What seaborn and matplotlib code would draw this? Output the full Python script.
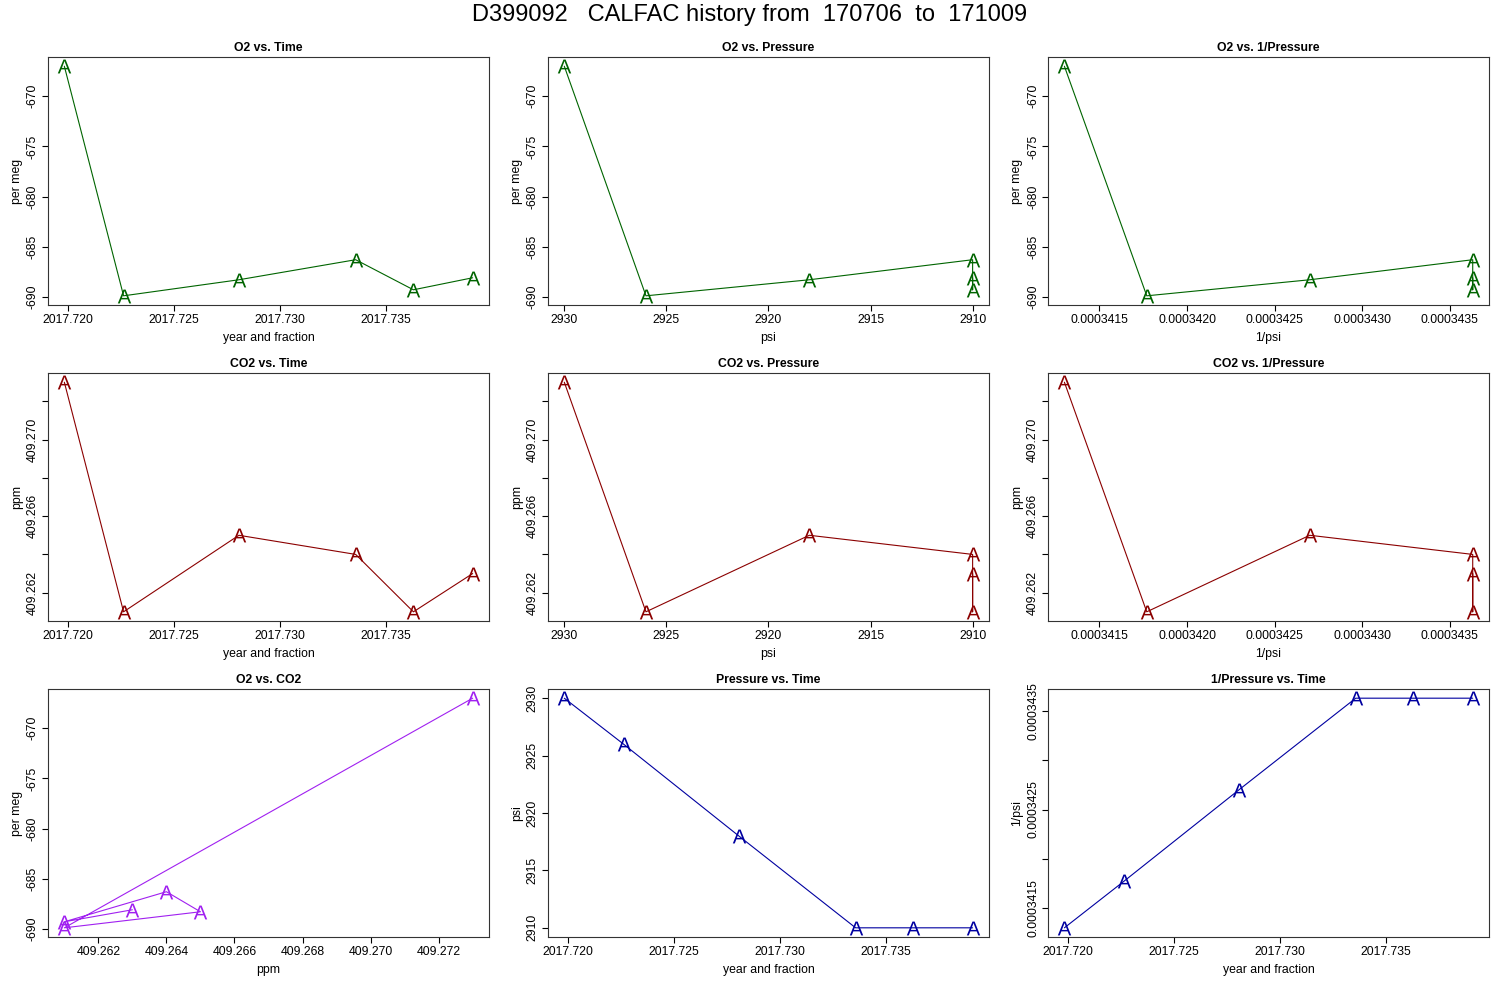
import matplotlib
matplotlib.use("Agg")
import matplotlib.pyplot as plt
import matplotlib.ticker as mticker
import seaborn as sns

# values (6 calibration runs)
time_yr = [2017.71984, 2017.72263, 2017.72806, 2017.73356, 2017.73628, 2017.73907]
o2_permeg = [-667.0, -689.9, -688.3, -686.3, -689.3, -688.1]
co2_ppm = [409.2730, 409.2610, 409.2650, 409.2640, 409.2610, 409.2630]
pressure_psi = [2930, 2926, 2918, 2910, 2910, 2910]
inv_pressure = [0.00034130, 0.00034177, 0.00034270, 0.00034363, 0.00034363, 0.00034363]

main_title = "D399092   CALFAC history from  170706  to  171009"

sns.set_style("ticks")
plt.rcParams['font.family'] = ['Liberation Sans', 'DejaVu Sans']
plt.rcParams['mathtext.fontset'] = 'custom'
plt.rcParams['mathtext.rm'] = 'Liberation Sans'
plt.rcParams['text.color'] = 'black'
plt.rcParams['axes.labelcolor'] = 'black'
plt.rcParams['xtick.color'] = 'black'
plt.rcParams['ytick.color'] = 'black'

GREEN = '#006400'
RED = '#8B0000'
PURPLE = '#A020F0'
BLUE = '#0000A0'

fig = plt.figure(figsize=(15, 10), dpi=100)
fig.text(0.5, 0.985, main_title, ha='center', va='center', fontsize=17)

col_x = [0.032, 0.3653, 0.6987]
row_y = [0.695, 0.379, 0.063]
W, H = 0.294, 0.248


def fmt(decimals, every=1, base=None, step=None):
    # R drops labels that would overlap; mimic by keeping every n-th
    def f(v, pos):
        if every > 1:
            k = round((v - base) / step)
            if k % every:
                return ''
        return f"{v:.{decimals}f}"
    return mticker.FuncFormatter(f)


def panel(ax, x, y, color, title, xlabel, ylabel):
    sns.lineplot(x=x, y=y, sort=False, estimator=None, color=color,
                 linewidth=0.8, ax=ax)
    sns.scatterplot(x=x, y=y, marker=r'$\mathrm{A}$', s=100, color=color,
                    linewidth=0, ax=ax, zorder=3)
    ax.margins(0.04)
    ax.set_title(title, fontsize=8.8, fontweight='bold', pad=4)
    ax.set_xlabel(xlabel, fontsize=8.8, labelpad=4)
    ax.set_ylabel(ylabel, fontsize=8.8, labelpad=3)
    ax.tick_params(direction='out', length=4, width=0.8, labelsize=8.8, pad=2.5)
    ax.tick_params(axis='y', labelrotation=90)
    for s in ax.spines.values():
        s.set_visible(True)
        s.set_color('#333333')
        s.set_linewidth(0.8)


axes = [[fig.add_axes([cx, ry, W, H]) for cx in col_x] for ry in row_y]

# row 1: O2
panel(axes[0][0], time_yr, o2_permeg, GREEN, "O2 vs. Time", "year and fraction", "per meg")
panel(axes[0][1], pressure_psi, o2_permeg, GREEN, "O2 vs. Pressure", "psi", "per meg")
panel(axes[0][2], inv_pressure, o2_permeg, GREEN, "O2 vs. 1/Pressure", "1/psi", "per meg")
# row 2: CO2
panel(axes[1][0], time_yr, co2_ppm, RED, "CO2 vs. Time", "year and fraction", "ppm")
panel(axes[1][1], pressure_psi, co2_ppm, RED, "CO2 vs. Pressure", "psi", "ppm")
panel(axes[1][2], inv_pressure, co2_ppm, RED, "CO2 vs. 1/Pressure", "1/psi", "ppm")
# row 3
panel(axes[2][0], co2_ppm, o2_permeg, PURPLE, "O2 vs. CO2", "ppm", "per meg")
panel(axes[2][1], time_yr, pressure_psi, BLUE, "Pressure vs. Time", "year and fraction", "psi")
panel(axes[2][2], time_yr, inv_pressure, BLUE, "1/Pressure vs. Time", "year and fraction", "1/psi")

for ax in [axes[0][0], axes[1][0], axes[2][1], axes[2][2]]:
    ax.xaxis.set_major_locator(mticker.MultipleLocator(0.005))
    ax.xaxis.set_major_formatter(fmt(3))
for ax in [axes[0][1], axes[1][1]]:
    ax.invert_xaxis()
    ax.xaxis.set_major_locator(mticker.MultipleLocator(5))
    ax.xaxis.set_major_formatter(fmt(0))
for ax in [axes[0][2], axes[1][2]]:
    ax.xaxis.set_major_locator(mticker.MultipleLocator(0.0000005))
    ax.xaxis.set_major_formatter(fmt(7))
for ax in [axes[0][0], axes[0][1], axes[0][2], axes[2][0]]:
    ax.yaxis.set_major_locator(mticker.MultipleLocator(5))
    ax.yaxis.set_major_formatter(fmt(0))
for ax in axes[1]:
    ax.yaxis.set_major_locator(mticker.MultipleLocator(0.002))
    ax.yaxis.set_major_formatter(fmt(3, every=2, base=409.262, step=0.002))
axes[2][0].xaxis.set_major_locator(mticker.MultipleLocator(0.002))
axes[2][0].xaxis.set_major_formatter(fmt(3))
axes[2][1].yaxis.set_major_locator(mticker.MultipleLocator(5))
axes[2][1].yaxis.set_major_formatter(fmt(0))
axes[2][2].yaxis.set_major_locator(mticker.MultipleLocator(0.0000005))
axes[2][2].yaxis.set_major_formatter(fmt(7, every=2, base=0.0003415, step=0.0000005))

for row in axes:
    for ax in row:
        for lab in ax.get_yticklabels():
            lab.set_va('center')

fig.savefig("out.png", dpi=100)
